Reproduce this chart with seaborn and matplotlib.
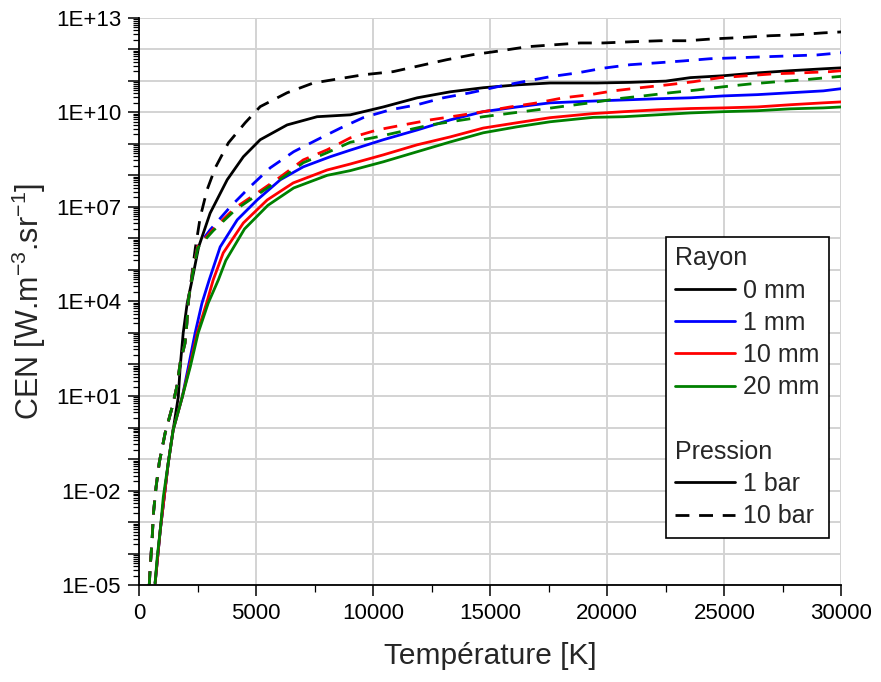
import numpy as np
import pandas as pd
import seaborn as sns
import matplotlib.pyplot as plt
from matplotlib.lines import Line2D
from matplotlib.ticker import FixedLocator, FuncFormatter, MultipleLocator

# Valeurs : temperature [K] et log10(CEN)
# --- 1 bar ---
t_0mm_1bar = [680, 900, 1240, 1450, 1670, 1750, 1880, 2050, 2260, 2540, 3030, 3760, 4450, 5170,
              6320, 7600, 9020, 10430, 11880, 13290, 14700, 16150, 17560, 19570, 21000, 22500,
              23550, 24960, 26410, 27820, 29230, 30000]
log_0mm_1bar = [-4.94, -3.25, -1.13, -0.08, 0.97, 1.92, 3.0, 3.94, 4.68, 5.73, 6.8, 7.86, 8.59, 9.13,
                9.6, 9.86, 9.92, 10.17, 10.46, 10.65, 10.78, 10.87, 10.93, 10.93, 10.95, 10.99,
                11.1, 11.16, 11.25, 11.32, 11.38, 11.41]

t_1mm_1bar = [680, 900, 1240, 1450, 1840, 2100, 2390, 2680, 2990, 3460, 4190, 5040, 6030, 7010,
              8160, 9020, 10430, 11880, 13290, 14700, 16150, 17560, 19500, 22140, 23550, 24960,
              26410, 27820, 29230, 30000]
log_1mm_1bar = [-4.94, -3.25, -1.13, -0.08, 0.97, 1.92, 3.0, 3.94, 4.68, 5.73, 6.59, 7.22, 7.86, 8.27,
                8.59, 8.8, 9.13, 9.44, 9.76, 10.02, 10.17, 10.3, 10.36, 10.43, 10.46, 10.52,
                10.56, 10.62, 10.68, 10.75]

t_10mm_1bar = [680, 900, 1240, 1450, 1840, 2150, 2480, 2900, 3160, 3590, 4450, 5470, 6580, 8030,
               9020, 10430, 11880, 13290, 14700, 16150, 17560, 19400, 20700, 22140, 23550, 24960,
               26410, 27820, 29230, 30000]
log_10mm_1bar = [-4.94, -3.25, -1.13, -0.08, 0.97, 1.92, 3.0, 4.0, 4.68, 5.54, 6.49, 7.22, 7.76, 8.17,
                 8.36, 8.65, 8.97, 9.22, 9.5, 9.67, 9.83, 9.96, 10.02, 10.08, 10.12, 10.14,
                 10.17, 10.24, 10.3, 10.33]

t_20mm_1bar = [680, 770, 900, 1030, 1240, 1450, 1840, 2180, 2520, 2950, 3380, 3700, 4500, 5500,
               6600, 8030, 9020, 10430, 11880, 13290, 14700, 16150, 17560, 19400, 20700, 22140,
               23550, 24960, 26410, 27820, 29230, 30000]
log_20mm_1bar = [-4.94, -4.11, -3.25, -2.2, -1.13, -0.08, 0.97, 1.92, 3.0, 3.95, 4.68, 5.3, 6.3, 7.05,
                 7.6, 8.0, 8.15, 8.43, 8.75, 9.06, 9.35, 9.54, 9.7, 9.84, 9.86, 9.92,
                 9.98, 10.02, 10.05, 10.11, 10.14, 10.17]

# --- 10 bar ---
t_0mm_10bar = [430, 470, 550, 610, 720, 860, 1110, 1400, 1610, 1670, 1840, 1960, 2100, 2260, 2400,
               2610, 2900, 3250, 3810, 4530, 5170, 6320, 7440, 9570, 10850, 12000, 13150, 14270,
               15430, 16580, 17690, 18850, 19830, 21110, 22260, 23420, 24530, 25680, 26970,
               28120, 29230, 30000]
log_0mm_10bar = [-5.0, -4.43, -3.57, -2.71, -1.89, -1.1, -0.17, 0.62, 1.3, 1.6, 2.37, 3.1, 3.95, 4.9, 5.7,
                 6.68, 7.54, 8.24, 9.03, 9.67, 10.18, 10.62, 10.93, 11.19, 11.29, 11.48, 11.67, 11.83,
                 11.95, 12.08, 12.14, 12.2, 12.2, 12.24, 12.27, 12.27, 12.33, 12.37, 12.43,
                 12.46, 12.52, 12.55]

t_1mm_10bar = [430, 470, 550, 610, 720, 860, 1110, 1400, 1610, 1750, 1960, 2040, 2100, 2300, 2500,
               3030, 3890, 4740, 5600, 6600, 7600, 8600, 9570, 10730, 11880, 12990, 14150, 15300,
               16410, 17560, 18720, 19830, 20980, 22140, 23250, 24400, 25560, 26670, 27820,
               28970, 30000]
log_1mm_10bar = [-5.0, -4.43, -3.57, -2.71, -1.89, -1.1, -0.17, 0.62, 1.3, 2.05, 2.68, 3.32, 4.05, 5.0, 5.75,
                 6.27, 7.0, 7.64, 8.24, 8.75, 9.13, 9.5, 9.83, 10.08, 10.24, 10.46, 10.62, 10.81,
                 10.97, 11.13, 11.25, 11.4, 11.51, 11.57, 11.63, 11.7, 11.73, 11.76, 11.79,
                 11.82, 11.89]

t_10mm_10bar = [430, 470, 550, 610, 720, 860, 1110, 1400, 1610, 1750, 1960, 2040, 2100, 2300, 2500,
                3170, 4100, 5040, 6030, 7010, 8030, 9020, 10170, 11280, 12440, 13590, 14700, 15850,
                17010, 18120, 19270, 20260, 21410, 22560, 23680, 24830, 25980, 27090, 28250,
                29530, 30000]
log_10mm_10bar = [-5.0, -4.43, -3.57, -2.71, -1.89, -1.1, -0.17, 0.62, 1.3, 2.05, 2.68, 3.32, 4.05, 5.0, 5.75,
                  6.3, 6.97, 7.44, 7.95, 8.49, 8.81, 9.19, 9.44, 9.6, 9.76, 9.89, 10.02, 10.17,
                  10.3, 10.46, 10.56, 10.68, 10.78, 10.87, 10.97, 11.1, 11.16, 11.22, 11.25,
                  11.29, 11.32]

t_20mm_10bar = [430, 470, 550, 610, 720, 860, 1110, 1400, 1610, 1750, 1960, 2040, 2100, 2300, 2500,
                3170, 4100, 5040, 6030, 7010, 8030, 9020, 10170, 12440, 14700, 17010, 19270,
                20430, 21540, 22690, 23850, 24960, 26110, 27260, 28380, 29830, 30000]
log_20mm_10bar = [-5.0, -4.43, -3.57, -2.71, -1.89, -1.1, -0.17, 0.62, 1.3, 2.05, 2.68, 3.32, 4.05, 4.95, 5.7,
                  6.25, 6.9, 7.38, 7.88, 8.4, 8.72, 9.05, 9.22, 9.6, 9.86, 10.08, 10.3,
                  10.43, 10.52, 10.62, 10.71, 10.81, 10.9, 10.97, 11.03, 11.13, 11.14]

rayons = ['0 mm', '1 mm', '10 mm', '20 mm']
pressions = ['1 bar', '10 bar']
couleurs = {'0 mm': 'black', '1 mm': '#0000ff', '10 mm': '#ff0000', '20 mm': '#008000'}

series = {
    ('0 mm', '1 bar'): (t_0mm_1bar, log_0mm_1bar),
    ('1 mm', '1 bar'): (t_1mm_1bar, log_1mm_1bar),
    ('10 mm', '1 bar'): (t_10mm_1bar, log_10mm_1bar),
    ('20 mm', '1 bar'): (t_20mm_1bar, log_20mm_1bar),
    ('0 mm', '10 bar'): (t_0mm_10bar, log_0mm_10bar),
    ('1 mm', '10 bar'): (t_1mm_10bar, log_1mm_10bar),
    ('10 mm', '10 bar'): (t_10mm_10bar, log_10mm_10bar),
    ('20 mm', '10 bar'): (t_20mm_10bar, log_20mm_10bar),
}

rows = []
for (r, p), (t, lg) in series.items():
    for ti, li in zip(t, lg):
        rows.append({'T': ti, 'CEN': 10.0 ** li, 'Rayon': r, 'Pression': p})
df = pd.DataFrame(rows)

sns.set_style('ticks')
plt.rcParams['font.family'] = ['Liberation Sans', 'DejaVu Sans']
plt.rcParams['mathtext.default'] = 'regular'

fig, ax = plt.subplots(figsize=(8.81, 6.82), dpi=100)
fig.subplots_adjust(left=0.158, right=0.955, bottom=0.142, top=0.974)

dash = (5, 3.5)
sns.lineplot(data=df, x='T', y='CEN', hue='Rayon', style='Pression',
             hue_order=rayons, style_order=pressions, palette=couleurs,
             dashes={'1 bar': '', '10 bar': dash}, linewidth=2.0,
             estimator=None, sort=False, legend=False, ax=ax)

ax.set_yscale('log')
ax.set_xlim(0, 30000)
ax.set_ylim(1e-5, 1e13)

# axe Y : une graduation par decade, etiquette toutes les 3 decades
ax.yaxis.set_major_locator(FixedLocator(10.0 ** np.arange(-5, 14)))
ax.yaxis.set_major_formatter(FuncFormatter(
    lambda v, p: f"1E{int(round(np.log10(v))):+03d}" if int(round(np.log10(v))) % 3 == 1 else ""))
minor = [m * 10.0 ** e for e in range(-5, 13) for m in range(2, 10)]
ax.yaxis.set_minor_locator(FixedLocator(minor))
ax.xaxis.set_major_locator(MultipleLocator(5000))
ax.xaxis.set_minor_locator(MultipleLocator(2500))
ax.xaxis.set_major_formatter(FuncFormatter(lambda v, p: f"{int(v)}"))

ax.grid(True, which='major', color='#d3d3d3', linewidth=1.4)
ax.set_axisbelow(True)
for s in ['top', 'right']:
    ax.spines[s].set_visible(False)
for s in ['left', 'bottom']:
    ax.spines[s].set_color('black')
    ax.spines[s].set_linewidth(1.3)

ax.tick_params(which='major', direction='out', length=8, width=1.1, labelsize=16,
               colors='black', pad=5)
ax.tick_params(which='minor', direction='out', length=4.5, width=0.9, colors='black')
ax.tick_params(axis='x', which='minor', length=5)

ax.set_xlabel('Température [K]', fontsize=21.5, labelpad=13)
ax.set_ylabel('CEN [W.m$^{-3}$.sr$^{-1}$]', fontsize=22, labelpad=6)

# legende en deux groupes : Rayon et Pression
vide = Line2D([], [], color='none')
handles = [vide] + [Line2D([], [], color=couleurs[r], lw=2.0) for r in rayons] + [vide, vide] + \
          [Line2D([], [], color='black', lw=2.0),
           Line2D([], [], color='black', lw=2.0, linestyle=(0, dash))]
labels = ['Rayon'] + rayons + [' ', 'Pression'] + pressions
leg = ax.legend(handles, labels, loc='upper right', bbox_to_anchor=(0.982, 0.614),
                fontsize=18, frameon=True, fancybox=False, edgecolor='black', framealpha=1,
                handlelength=2.4, handletextpad=0.3, labelspacing=0.33, borderpad=0.38,
                borderaxespad=0)
leg.get_frame().set_linewidth(1.2)
for row in leg._legend_handle_box.get_children()[0].get_children():
    da, txt = row.get_children()
    if txt.get_text() in ('Rayon', 'Pression'):
        da.width = 0
        row.sep = 0

fig.savefig('out.png', dpi=100)
